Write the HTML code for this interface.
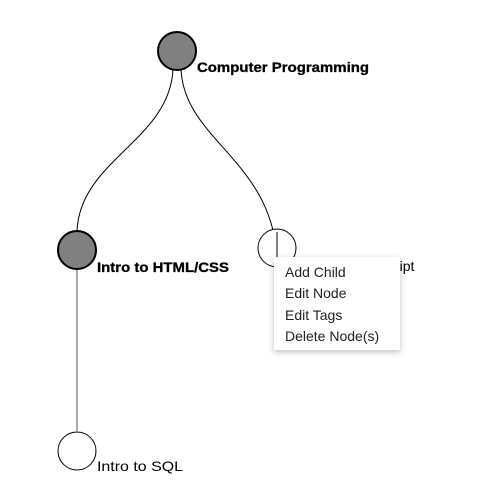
<!DOCTYPE html>
<html><head><style>
body{margin:0;background:#fff;width:499px;height:503px;overflow:hidden;position:relative;font-family:"Segoe UI","Liberation Sans",sans-serif}
svg{position:absolute;left:0;top:0}
.menu{position:absolute;left:274px;top:257px;width:126px;height:93px;background:#fff;box-shadow:0 2px 6px rgba(0,0,0,0.25);font-size:14px;color:#222;line-height:21.3px;padding-top:5px;box-sizing:border-box}
.menu div{padding-left:11px}
</style></head><body>
<svg width="499" height="503">
<g fill="none" stroke="#000" stroke-width="1">
<path d="M173,69 C170,140 80,160 77,231"/>
<path d="M181,69 C184,140 272,160 277,258"/>
<path d="M77,269 L77,431" stroke="#555"/>
</g>
<circle cx="177" cy="51" r="19" fill="#808080" stroke="#000" stroke-width="2"/>
<circle cx="77" cy="250" r="19" fill="#808080" stroke="#000" stroke-width="2"/>
<circle cx="277" cy="248" r="19" fill="#fff" stroke="#000" stroke-width="1"/>
<path d="M277,232 L277,258" stroke="#000" fill="none"/>
<circle cx="77" cy="451" r="19" fill="#fff" stroke="#000" stroke-width="1"/>
<g font-family="Segoe UI, Liberation Sans, sans-serif" font-size="14" fill="#000" font-weight="bold" stroke="#000" stroke-width="0.3">
<text x="197" y="72" textLength="172" lengthAdjust="spacingAndGlyphs">Computer Programming</text>
<text x="97" y="272" textLength="132" lengthAdjust="spacingAndGlyphs">Intro to HTML/CSS</text>
</g>
<g font-family="Segoe UI, Liberation Sans, sans-serif" font-size="14" fill="#000">
<text x="97" y="471" textLength="86" lengthAdjust="spacingAndGlyphs">Intro to SQL</text>
<text x="395" y="271">ript</text>
</g>
</svg>
<div class="menu"><div>Add Child</div><div>Edit Node</div><div>Edit Tags</div><div>Delete Node(s)</div></div>
</body></html>
